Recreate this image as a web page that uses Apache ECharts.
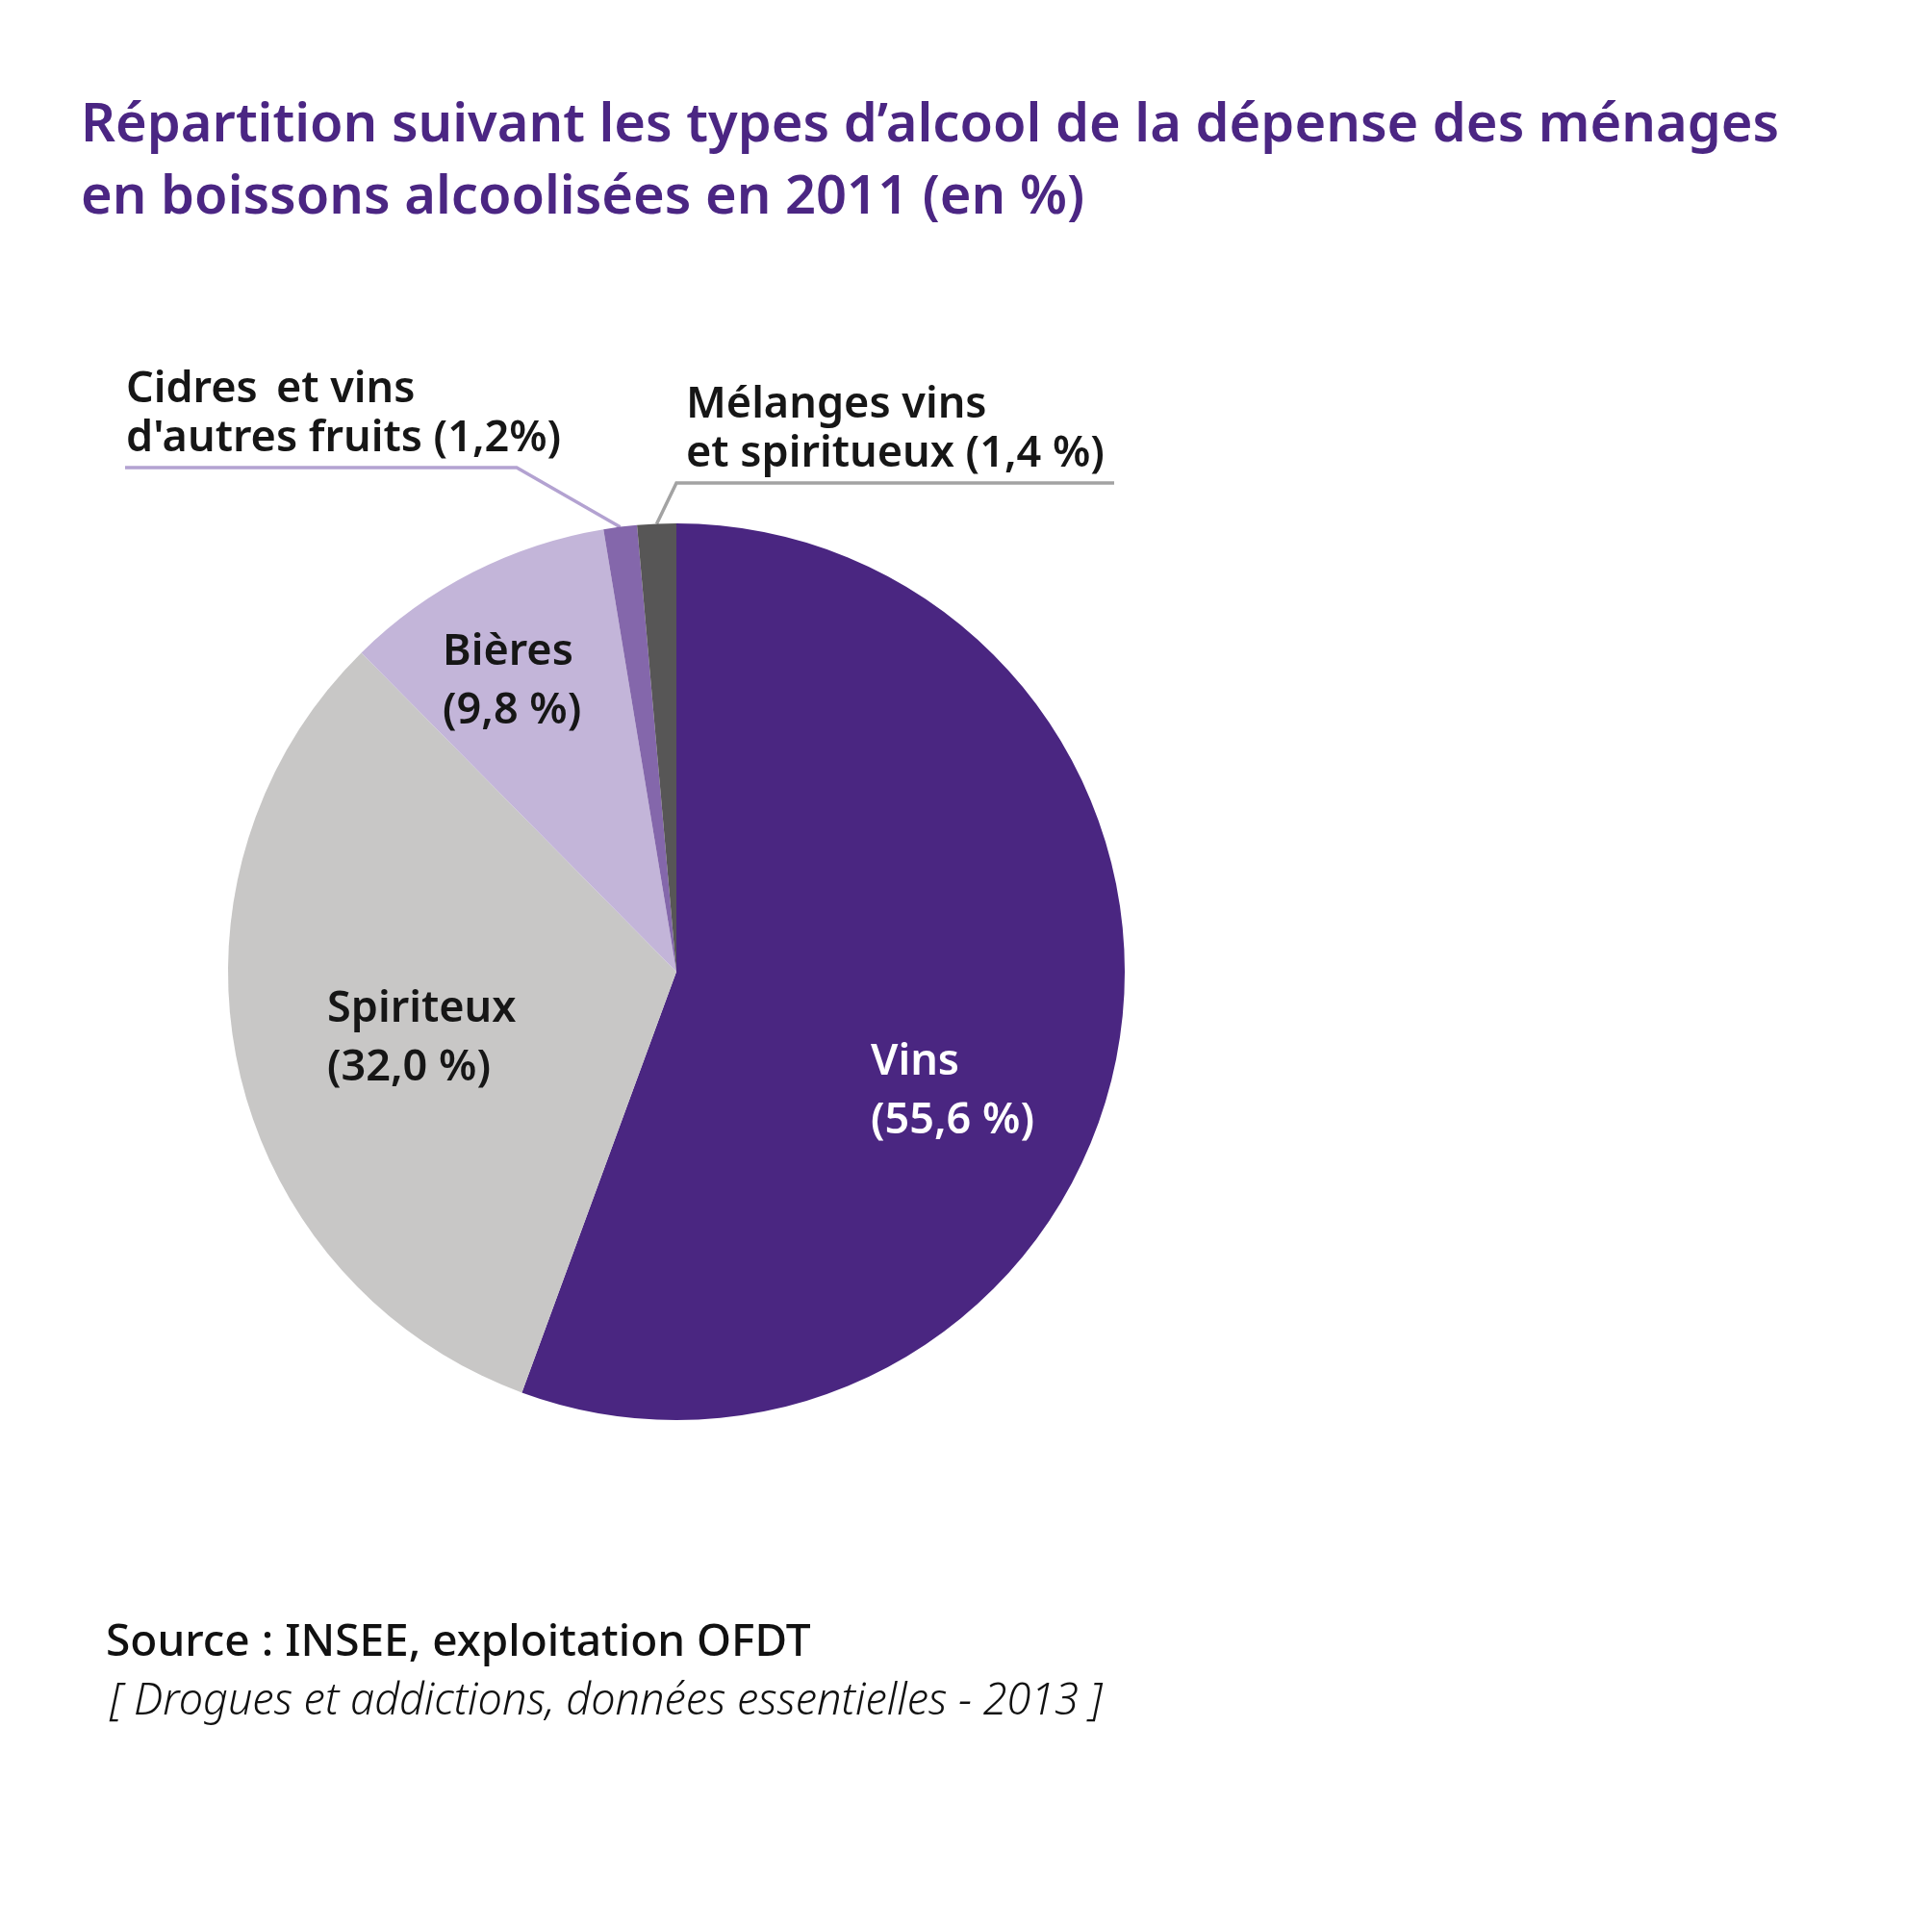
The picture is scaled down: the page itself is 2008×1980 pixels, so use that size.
<!DOCTYPE html>
<html>
<head>
<meta charset="utf-8">
<script src="https://cdn.jsdelivr.net/npm/echarts@6/dist/echarts.min.js"></script>
<style>
  html, body { margin: 0; padding: 0; background: #fff; }
  #chart { width: 2008px; height: 1980px; }
</style>
</head>
<body>
<div id="chart"></div>
<script>
// data
var categories = ['Vins', 'Spiriteux', 'Bières', "Cidres \u2009et vins\nd'autres fruits", 'Mélanges vins\net spiritueux'];
var shares = [55.6, 32.0, 9.8, 1.2, 1.4];
var pctGap = [' ', ' ', ' ', '', ' '];
var outside = [false, false, false, true, true];

var colors = ['#4a2681', '#c8c7c6', '#c3b5d9', '#8467ab', '#575656'];
var textColors = ['#ffffff', '#161616', '#161616', '#161616', '#161616'];

// label placement: left edge and middle of the two-line block
var labelPos = [[905, 1135], [340, 1080], [460, 709], [131, 431], [713, 447]];
var lineHeights = [61, 61, 61, 51, 51];
var fontSizes = [45, 45, 45, 45, 45];
var lineKnees = [null, null, null, [[537, 486], [130, 486]], [[703, 502], [1158, 502]]];
var lineColors = [null, null, null, '#b3a2d1', '#a3a3a3'];

var FONT = 'Noto Sans';

var data = categories.map(function (name, i) {
    return {
        name: name,
        value: shares[i],
        itemStyle: { color: colors[i] },
        label: {
            position: outside[i] ? 'outside' : 'inside',
            color: textColors[i],
            fontSize: fontSizes[i],
            lineHeight: lineHeights[i]
        },
        labelLine: {
            show: outside[i],
            lineStyle: { color: lineColors[i] || '#999', width: 3.5 }
        }
    };
});

var option = {
    animation: false,
    title: [{
        text: 'Répartition suivant les types d’alcool de la dépense des ménages\nen boissons alcoolisées en 2011 (en %)',
        left: 84,
        top: 94,
        padding: 0,
        textStyle: { fontFamily: FONT, fontSize: 56, fontWeight: 600, color: '#4b2683', lineHeight: 75 }
    }, {
        text: 'Source : INSEE, exploitation OFDT',
        left: 110,
        top: 1680,
        padding: 0,
        textStyle: { fontFamily: FONT, fontSize: 46, fontWeight: 500, color: '#111', lineHeight: 56 }
    }, {
        text: '[ Drogues et addictions, données essentielles - 2013 ]',
        left: 114,
        top: 1742,
        padding: 0,
        textStyle: { fontFamily: FONT, fontSize: 45, fontWeight: 300, fontStyle: 'italic', color: '#111', lineHeight: 55 }
    }],
    series: [{
        type: 'pie',
        center: [703, 1010],
        radius: 466,
        startAngle: 90,
        clockwise: true,
        avoidLabelOverlap: false,
        emphasis: { disabled: true },
        label: {
            fontFamily: FONT,
            fontWeight: 600,
            formatter: function (p) {
                var i = p.dataIndex;
                var v = shares[i].toFixed(1).replace('.', ',');
                return categories[i] + (outside[i] ? ' ' : '\n') + '(' + v + pctGap[i] + '%)';
            }
        },
        labelLayout: function (p) {
            var i = p.dataIndex;
            var o = { x: labelPos[i][0], y: labelPos[i][1], align: 'left', verticalAlign: 'middle' };
            if (lineKnees[i] && p.labelLinePoints) {
                o.labelLinePoints = [p.labelLinePoints[0]].concat(lineKnees[i]);
            }
            return o;
        },
        data: data
    }]
};

var myChart = echarts.init(document.getElementById('chart'));
myChart.setOption(option);
</script>
</body>
</html>
